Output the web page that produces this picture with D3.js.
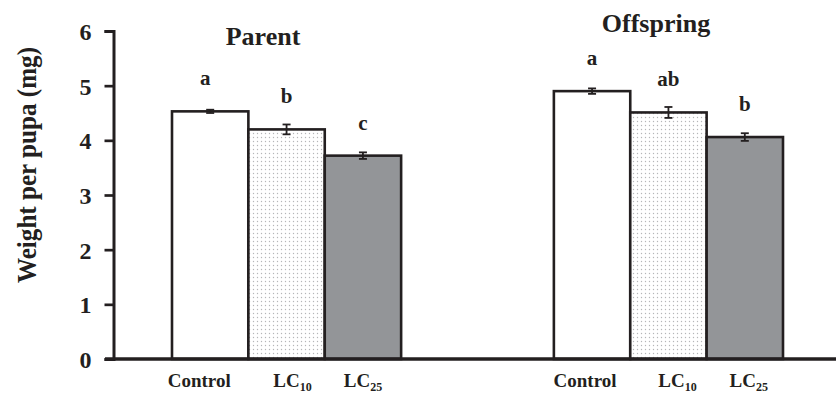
<!DOCTYPE html>
<html>
<head>
<meta charset="utf-8">
<script src="https://cdn.jsdelivr.net/npm/d3@7"></script>
<style>
  body { margin: 0; background: #fff; }
  text { font-family: "Liberation Serif", "Times New Roman", serif; font-weight: bold; fill: #231f20; }
</style>
</head>
<body>
<div id="chart"></div>
<script>
// data
const groups = ['Parent', 'Offspring'];
const treatments = ['Control', 'LC10', 'LC25'];
const parentMeans = [4.53, 4.2, 3.72];
const parentErr = [0.03, 0.09, 0.06];
const parentLetters = ['a', 'b', 'c'];
const offspringMeans = [4.9, 4.51, 4.06];
const offspringErr = [0.05, 0.1, 0.07];
const offspringLetters = ['a', 'ab', 'b'];
const yTicks = [0, 1, 2, 3, 4, 5, 6];
// labels under the bars are not quite centred in the original
const labelShift = [-11, 6, 0, -7, 9, 4];

const width = 836, height = 394;
const ink = '#231f20';

const rows = [];
groups.forEach((g, gi) => {
  const means = gi === 0 ? parentMeans : offspringMeans;
  const errs = gi === 0 ? parentErr : offspringErr;
  const letters = gi === 0 ? parentLetters : offspringLetters;
  treatments.forEach((t, ti) => {
    rows.push({ group: g, treat: t, ti, value: means[ti], err: errs[ti], letter: letters[ti] });
  });
});

const svg = d3.select('#chart').append('svg')
  .attr('width', width).attr('height', height);

const defs = svg.append('defs');
const pat = defs.append('pattern')
  .attr('id', 'dots')
  .attr('patternUnits', 'userSpaceOnUse')
  .attr('width', 4).attr('height', 4);
pat.append('rect').attr('width', 4).attr('height', 4).attr('fill', '#fff');
pat.append('circle').attr('cx', 1.5).attr('cy', 1.5).attr('r', 0.7).attr('fill', '#b5b6b8');

const y = d3.scaleLinear().domain([0, 6]).range([359, 31]);

// group positions
const xGroup = d3.scaleBand().domain(groups).range([172, 783]).paddingInner(0.4);
const xBar = d3.scaleBand().domain(treatments).range([0, xGroup.bandwidth()]);
const cx = d => xGroup(d.group) + xBar(d.treat) + xBar.bandwidth() / 2;

const fills = { Control: '#fff', LC10: 'url(#dots)', LC25: '#939598' };

svg.append('g').selectAll('rect')
  .data(rows)
  .enter().append('rect')
  .attr('x', d => xGroup(d.group) + xBar(d.treat))
  .attr('y', d => y(d.value))
  .attr('width', xBar.bandwidth())
  .attr('height', d => y(0) - y(d.value))
  .attr('fill', d => fills[d.treat])
  .attr('stroke', ink)
  .attr('stroke-width', 2.6);

// error bars
const eb = svg.append('g').attr('stroke', ink).attr('stroke-width', 1.8);
rows.forEach(d => {
  const x = cx(d);
  eb.append('line').attr('x1', x).attr('x2', x).attr('y1', y(d.value + d.err)).attr('y2', y(d.value - d.err));
  eb.append('line').attr('x1', x - 4).attr('x2', x + 4).attr('y1', y(d.value + d.err)).attr('y2', y(d.value + d.err));
  eb.append('line').attr('x1', x - 4).attr('x2', x + 4).attr('y1', y(d.value - d.err)).attr('y2', y(d.value - d.err));
});

// significance letters
svg.append('g').selectAll('text')
  .data(rows)
  .enter().append('text')
  .attr('x', d => cx(d) - (d.group === 'Parent' && d.ti === 0 ? 5 : 0))
  .attr('y', d => y(d.value) - 26)
  .attr('text-anchor', 'middle')
  .attr('font-size', 21)
  .text(d => d.letter);

// group titles
const titleY = { Parent: 45, Offspring: 32 };
svg.append('g').selectAll('text')
  .data(groups)
  .enter().append('text')
  .attr('x', (d, i) => i === 0 ? 263 : 656)
  .attr('y', d => titleY[d])
  .attr('text-anchor', 'middle')
  .attr('font-size', 26)
  .text(d => d);

// y axis
const yAxis = svg.append('g')
  .attr('transform', 'translate(113.5,0)')
  .call(d3.axisLeft(y).tickValues(yTicks).tickSize(9).tickPadding(13).tickFormat(d3.format('d')));
yAxis.select('.domain').attr('stroke', ink).attr('stroke-width', 3);
yAxis.selectAll('.tick line').attr('stroke', ink).attr('stroke-width', 2.7);
yAxis.selectAll('.tick text').attr('font-size', 24).attr('dy', '0.35em')
  .style('font-family', '"Liberation Serif", serif').style('font-weight', 'bold').attr('fill', ink);

// x axis baseline
svg.append('line')
  .attr('x1', 105).attr('x2', width)
  .attr('y1', y(0)).attr('y2', y(0))
  .attr('stroke', ink).attr('stroke-width', 3.5);

// category labels with subscripts
const lab = svg.append('g').selectAll('text')
  .data(rows)
  .enter().append('text')
  .attr('x', (d, i) => cx(d) + labelShift[i])
  .attr('y', 387)
  .attr('text-anchor', 'middle')
  .attr('font-size', 19);
lab.each(function (d) {
  const t = d3.select(this);
  if (d.treat === 'Control') {
    t.text('Control');
  } else {
    t.append('tspan').text('LC');
    t.append('tspan').attr('font-size', 12).attr('dy', 4).text(d.treat.slice(2));
  }
});

// y axis title (glyphs in the original are taller than the run is long)
svg.append('text')
  .attr('transform', 'translate(36,165) rotate(-90)')
  .attr('text-anchor', 'middle')
  .attr('font-size', 28)
  .attr('textLength', 236)
  .attr('lengthAdjust', 'spacingAndGlyphs')
  .text('Weight per pupa (mg)');
</script>
</body>
</html>
